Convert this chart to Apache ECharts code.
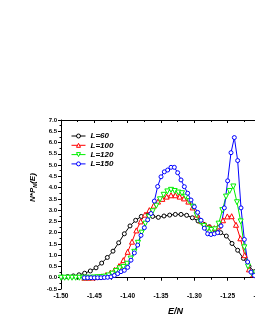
<!DOCTYPE html>
<html><head><meta charset="utf-8">
<script src="https://cdn.jsdelivr.net/npm/echarts@6/dist/echarts.min.js"></script>
<style>html,body{margin:0;padding:0;background:#fff}#c{width:255px;height:330px}</style>
</head><body><div id="c"></div>
<script>
const seriesNames = ['L=60', 'L=100', 'L=120', 'L=150'];
const xTicks = [-1.50, -1.45, -1.40, -1.35, -1.30, -1.25, -1.20];
const yTicks = [-0.5, 0.0, 0.5, 1.0, 1.5, 2.0, 2.5, 3.0, 3.5, 4.0, 4.5, 5.0, 5.5, 6.0, 6.5, 7.0];

const eL60 = [-1.4985,-1.490,-1.4815,-1.473,-1.4645,-1.456,-1.4475,-1.439,-1.4305,-1.422,-1.4135,-1.405,-1.3965,-1.388,-1.3795,-1.371,-1.3625,-1.354,-1.3455,-1.337,-1.3285,-1.320,-1.3115,-1.303,-1.2945,-1.286,-1.2775,-1.269,-1.2605,-1.252,-1.2435,-1.235,-1.2265,-1.218,-1.2095,-1.201];
const pL60 = [0.03,0.05,0.08,0.13,0.20,0.30,0.44,0.65,0.90,1.18,1.55,1.95,2.30,2.55,2.72,2.78,2.72,2.68,2.74,2.78,2.81,2.81,2.77,2.66,2.52,2.37,2.26,2.12,2.00,1.85,1.52,1.22,0.86,0.50,0.27,0.13];

const eL100 = [-1.465,-1.4585,-1.452,-1.4455,-1.439,-1.4325,-1.426,-1.4195,-1.413,-1.4065,-1.400,-1.3935,-1.387,-1.3805,-1.374,-1.3675,-1.361,-1.3545,-1.348,-1.3415,-1.335,-1.3285,-1.322,-1.3155,-1.309,-1.3025,-1.296,-1.2895,-1.283,-1.2765,-1.270,-1.2635,-1.257,-1.2505,-1.244,-1.2375,-1.231,-1.2245,-1.218,-1.2115,-1.205];
const pL100 = [0.00,0.00,0.01,0.03,0.06,0.12,0.22,0.35,0.52,0.78,1.15,1.60,2.10,2.50,2.80,3.00,3.20,3.38,3.50,3.60,3.66,3.66,3.60,3.52,3.38,3.12,2.80,2.52,2.33,2.24,2.20,2.28,2.55,2.72,2.73,2.35,1.75,1.00,0.37,0.15,0.07];

const eL120 = [-1.500,-1.4945,-1.489,-1.4835,-1.478,-1.4725,-1.467,-1.4615,-1.456,-1.4505,-1.445,-1.4395,-1.434,-1.4285,-1.423,-1.4175,-1.412,-1.4065,-1.401,-1.3955,-1.390,-1.3845,-1.379,-1.3735,-1.368,-1.3625,-1.357,-1.3515,-1.346,-1.3405,-1.335,-1.3295,-1.324,-1.3185,-1.313,-1.3075,-1.302,-1.2965,-1.291,-1.2855,-1.280,-1.2745,-1.269,-1.2635,-1.258,-1.2525,-1.247,-1.2415,-1.236,-1.2305,-1.225,-1.2195,-1.214,-1.2085,-1.203];
const pL120 = [0.00,0.00,0.00,0.00,0.00,0.00,0.00,0.00,0.00,0.01,0.02,0.03,0.05,0.10,0.18,0.30,0.42,0.48,0.62,0.85,1.15,1.55,2.00,2.40,2.70,2.95,3.20,3.48,3.68,3.83,3.90,3.85,3.78,3.75,3.60,3.40,3.15,2.78,2.48,2.30,2.17,2.12,2.15,2.40,3.00,3.60,3.85,4.05,3.35,2.50,1.35,0.50,0.20,0.10,0.05];

const eL150 = [-1.465,-1.460,-1.455,-1.450,-1.445,-1.440,-1.435,-1.430,-1.425,-1.420,-1.415,-1.410,-1.405,-1.400,-1.395,-1.390,-1.385,-1.380,-1.375,-1.370,-1.365,-1.360,-1.355,-1.350,-1.345,-1.340,-1.335,-1.330,-1.325,-1.320,-1.315,-1.310,-1.305,-1.300,-1.295,-1.290,-1.285,-1.280,-1.275,-1.270,-1.265,-1.260,-1.255,-1.250,-1.245,-1.240,-1.235,-1.230,-1.225,-1.220,-1.215,-1.210,-1.205];
const pL150 = [0.00,0.00,0.00,0.00,0.00,0.00,0.01,0.02,0.04,0.10,0.18,0.27,0.33,0.46,0.78,1.10,1.45,1.88,2.22,2.57,2.85,3.40,4.05,4.48,4.70,4.78,4.90,4.90,4.66,4.34,4.04,3.75,3.45,3.15,2.90,2.55,2.20,1.95,1.92,1.95,2.00,2.30,3.10,4.30,5.55,6.22,5.20,3.10,1.70,0.70,0.25,0.10,0.05];

const colors = ['#000000', '#ff0000', '#00f000', '#0000ff'];
const symbols = ['circle', 'triangle', 'triangle', 'circle'];
const rotations = [0, 0, 180, 0];
const eData = [eL60, eL100, eL120, eL150];
const pData = [pL60, pL100, pL120, pL150];

const chart = echarts.init(document.getElementById('c'), null, {renderer: 'canvas'});
const font = 'Liberation Sans, Arial, sans-serif';

const series = seriesNames.map((name, k) => ({
  name: name,
  type: 'line',
  color: colors[k],
  data: eData[k].map((e, i) => [e, pData[k][i]]),
  symbol: symbols[k],
  symbolRotate: rotations[k],
  symbolSize: k === 0 ? 4 : (k === 3 ? 4 : 5),
  showAllSymbol: true,
  lineStyle: {color: colors[k], width: 1},
  itemStyle: {color: '#ffffff', borderColor: colors[k], borderWidth: 1},
  emphasis: {disabled: true},
  animation: false,
  clip: true
}));

const option = {
  backgroundColor: '#ffffff',
  animation: false,
  grid: {left: 61, top: 120, right: -6, bottom: 41, containLabel: false, outerBoundsMode: 'none'},
  legend: {
    orient: 'vertical', left: 66, top: 127,
    itemWidth: 14, itemHeight: 5, itemGap: 1.3,
    textStyle: {fontFamily: font, fontSize: 8, fontStyle: 'italic', fontWeight: 'bold', color: '#000'},
    data: seriesNames.map((n, k) => ({
      name: n,
      itemStyle: {color: '#ffffff', borderColor: colors[k], borderWidth: 1},
      lineStyle: {color: colors[k], width: 1}
    }))
  },
  xAxis: [{
    type: 'value', position: 'bottom',
    min: xTicks[0], max: xTicks[xTicks.length - 1], interval: 0.05,
    axisLine: {lineStyle: {color: '#000', width: 1}},
    axisTick: {show: true, inside: false, length: 3, lineStyle: {color: '#000'}},
    minorTick: {show: true, splitNumber: 2, length: 2, lineStyle: {color: '#000'}},
    splitLine: {show: false},
    axisLabel: {fontFamily: font, fontSize: 6.5, fontWeight: 'bold', color: '#000', margin: 4,
      formatter: v => v.toFixed(2)}
  }, {
    type: 'value', position: 'top',
    min: xTicks[0], max: xTicks[xTicks.length - 1], interval: 0.05,
    axisLine: {lineStyle: {color: '#000', width: 1}},
    axisTick: {show: true, inside: true, length: 3, lineStyle: {color: '#000'}},
    minorTick: {show: true, splitNumber: 2, length: 2, lineStyle: {color: '#000'}},
    splitLine: {show: false},
    axisLabel: {show: false}
  }],
  yAxis: [{
    type: 'value',
    min: yTicks[0], max: yTicks[yTicks.length - 1], interval: 0.5,
    axisLine: {show: true, lineStyle: {color: '#000', width: 1}},
    axisTick: {show: true, inside: false, length: 3, lineStyle: {color: '#000'}},
    minorTick: {show: true, splitNumber: 2, length: 1.5, lineStyle: {color: '#000'}},
    splitLine: {show: false},
    axisLabel: {fontFamily: font, fontSize: 6, fontWeight: 'bold', color: '#000', margin: 4,
      formatter: v => v.toFixed(1)}
  }],
  graphic: [{
    type: 'text', left: 168, top: 307,
    style: {text: 'E/N', font: 'italic bold 9px ' + font, fill: '#000'}
  }, {
    type: 'text', x: 28, y: 202, rotation: Math.PI / 2,
    style: {
      text: '{a|N*P}{s|N}{a|(E)}',
      rich: {
        a: {font: 'italic bold 8px ' + font, fill: '#000'},
        s: {font: 'italic bold 5.5px ' + font, fill: '#000', verticalAlign: 'bottom', padding: [4, 0, 0, 0]}
      }
    }
  }],
  series: series
};
chart.setOption(option);
</script></body></html>
